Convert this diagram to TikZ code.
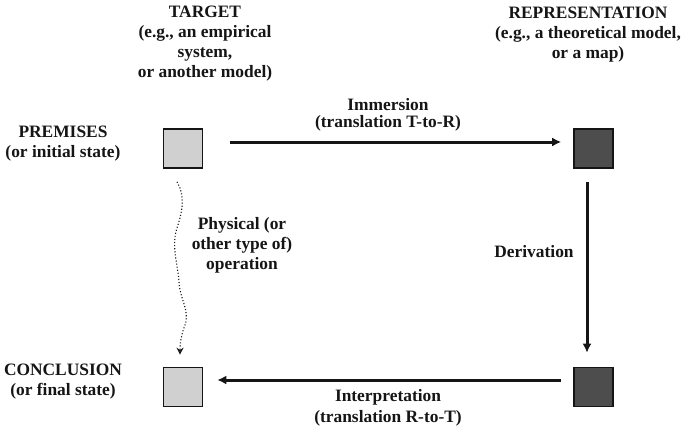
\documentclass[tikz,border=0pt]{standalone}
\usepackage{fontspec}
\setmainfont{Liberation Serif}
\usetikzlibrary{arrows.meta}
\definecolor{lightsq}{HTML}{D0D0D0}
\definecolor{darksq}{HTML}{4D4D4D}
\definecolor{ink}{HTML}{151515}
\tikzset{
  sqbox/.style={draw=ink, line width=1.6pt, minimum width=39pt, minimum height=39pt, inner sep=0pt},
  lab/.style={align=center, inner sep=0pt, text=ink, font=\bfseries\fontsize{17.4}{20}\selectfont},
  bigarrow/.style={draw=ink, line width=3pt, -{Latex[length=9pt,width=9pt]}},
  dotarrow/.style={draw=ink, line width=1.1pt, dotted, -{Stealth[length=7pt,width=7pt,open]}}
}
\begin{document}
\begin{tikzpicture}[x=1pt,y=-1pt]
\useasboundingbox (0,0) rectangle (682,428);
% squares
\node[sqbox, fill=lightsq] (tl) at (183,148.5) {};
\node[sqbox, fill=darksq]  (tr) at (593.5,148.5) {};
\node[sqbox, fill=lightsq] (bl) at (183,387) {};
\node[sqbox, fill=darksq]  (br) at (593.5,387) {};
% labels
\node[lab] (target) at (205,44) {TARGET\\(e.g., an empirical\\system,\\or another model)};
\node[lab] (repr) at (588,35) {REPRESENTATION\\(e.g., a theoretical model,\\or a map)};
\node[lab] (prem) at (63,144) {PREMISES\\(or initial state)};
\node[lab] (concl) at (63,382) {CONCLUSION\\(or final state)};
\node[lab, font=\bfseries\fontsize{17.4}{16.5}\selectfont] (imm) at (388,115) {Immersion\\(translation T-to-R)};
\node[lab, font=\bfseries\fontsize{17.4}{21}\selectfont] (interp) at (388,408) {Interpretation\\(translation R-to-T)};
\node[lab] (deriv) at (534,252) {Derivation};
\node[lab] (phys) at (242,245) {Physical (or\\other type of)\\operation};
% connectors
\draw[bigarrow] ([xshift=27pt,yshift=6.5pt]tl.east) -- ([xshift=-12pt,yshift=6.5pt]tr.west);
\draw[bigarrow] ([xshift=-6.5pt,yshift=-13pt]tr.south) -- ([xshift=-6.5pt,yshift=14pt]br.north);
\draw[bigarrow] ([xshift=-12pt,yshift=7pt]br.west) -- ([xshift=14pt,yshift=7pt]bl.east);
\draw[dotarrow] ([xshift=-6pt,yshift=-13pt]tl.south)
  .. controls (185,195) and (183,210) .. (177,228)
  .. controls (171,246) and (178,265) .. (179,282)
  .. controls (180,300) and (190,310) .. (185,325)
  .. controls (181,335) and (180,345) .. ([xshift=-3pt,yshift=12pt]bl.north);
\end{tikzpicture}
\end{document}
